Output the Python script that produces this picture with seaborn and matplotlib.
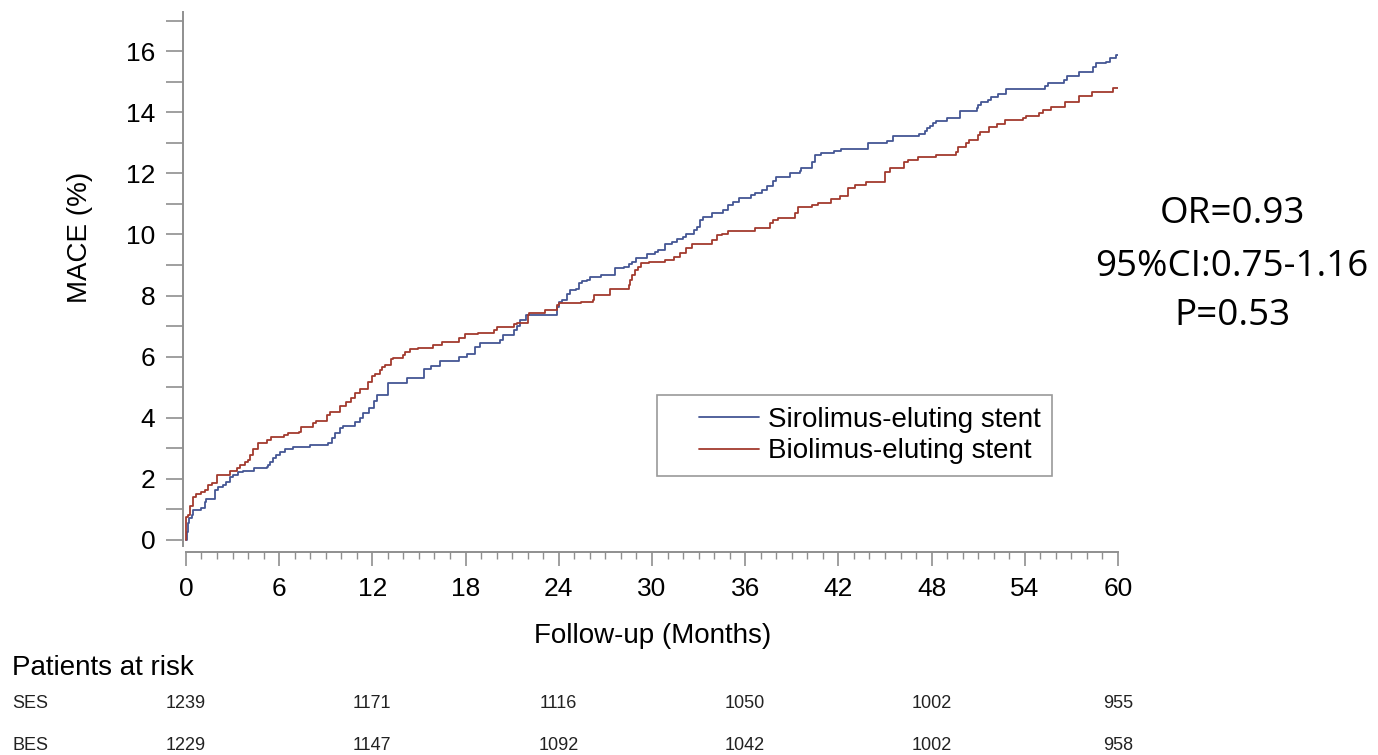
import numpy as np
import pandas as pd
import matplotlib
matplotlib.use("Agg")
import matplotlib.pyplot as plt
import seaborn as sns
from matplotlib import font_manager as fm
from matplotlib.ticker import MultipleLocator
from matplotlib.lines import Line2D
from matplotlib.legend_handler import HandlerLine2D
from matplotlib.transforms import blended_transform_factory

# ---------------- data ----------------
ses_months = [0, 0.05, 0.1, 0.2, 0.36, 0.47, 1.0, 1.22, 1.3, 1.86, 2.08, 2.4, 2.6, 2.83, 3.0,
              3.36, 3.7, 4.4, 5.2, 5.3, 5.4, 5.6, 5.8, 6.05, 6.4, 6.9, 8.0, 9.16, 9.4, 9.6,
              9.9, 10.1, 10.9, 11.2, 11.4, 11.8, 12.1, 12.3, 13.0, 14.2, 15.3, 15.8, 16.35,
              17.6, 18.1, 18.6, 18.9, 20.2, 20.4, 21.1, 21.3, 21.5, 21.9, 23.9, 24.0, 24.2,
              24.5, 24.7, 25.1, 25.3, 25.5, 25.8, 26.0, 26.7, 27.6, 28.2, 28.5, 28.7, 29.0,
              29.7, 30.2, 30.4, 30.85, 31.3, 31.6, 32.0, 32.2, 32.7, 32.9, 33.1, 33.3, 33.85,
              34.6, 34.9, 35.2, 35.6, 36.4, 36.6, 37.1, 37.4, 37.8, 38.0, 38.9, 39.5, 39.6,
              40.3, 40.5, 40.9, 41.7, 42.2, 43.9, 45.1, 45.5, 47.2, 47.6, 47.7, 47.9, 48.1,
              48.3, 49.0, 49.8, 50.9, 51.0, 51.2, 51.6, 51.8, 52.3, 52.8, 55.3, 55.5, 56.5,
              56.7, 57.5, 58.4, 58.6, 59.2, 59.5, 59.9, 60.0]
ses_mace = [0, 0.27, 0.55, 0.71, 0.82, 0.98, 1.04, 1.25, 1.33, 1.64, 1.72, 1.8, 1.91, 2.07, 2.13,
            2.24, 2.27, 2.35, 2.4, 2.45, 2.56, 2.67, 2.78, 2.89, 2.97, 3.05, 3.11, 3.19, 3.33, 3.49,
            3.65, 3.74, 3.87, 3.98, 4.15, 4.31, 4.55, 4.75, 5.13, 5.3, 5.6, 5.7, 5.86,
            6.0, 6.1, 6.3, 6.45, 6.56, 6.7, 6.87, 7.0, 7.2, 7.36, 7.63, 7.8, 7.87,
            8.04, 8.18, 8.23, 8.4, 8.47, 8.5, 8.61, 8.67, 8.89, 8.94, 9.03, 9.11, 9.22,
            9.36, 9.43, 9.49, 9.7, 9.76, 9.84, 9.9, 10.03, 10.14, 10.25, 10.47, 10.58, 10.69,
            10.8, 10.96, 11.07, 11.18, 11.29, 11.34, 11.45, 11.58, 11.76, 11.87, 12.0, 12.09, 12.18,
            12.38, 12.6, 12.65, 12.74, 12.78, 12.98, 13.07, 13.22, 13.28, 13.38, 13.47, 13.56, 13.66,
            13.72, 13.82, 14.05, 14.13, 14.23, 14.34, 14.4, 14.5, 14.61, 14.75, 14.86, 14.94, 15.05,
            15.2, 15.32, 15.49, 15.6, 15.65, 15.76, 15.87, 15.87]

bes_months = [0, 0.02, 0.15, 0.25, 0.43, 0.64, 1.0, 1.22, 1.43, 1.65, 1.97, 2.83, 3.26, 3.47,
              3.8, 4.0, 4.1, 4.3, 4.65, 5.2, 5.5, 6.3, 6.6, 7.3, 7.4, 8.2, 8.4, 9.05, 9.3, 9.9,
              10.3, 10.6, 10.9, 11.2, 11.7, 11.95, 12.2, 12.5, 12.6, 12.8, 13.2, 13.3, 14.0,
              14.1, 14.4, 14.95, 15.9, 16.5, 17.6, 17.95, 18.8, 19.8, 20.0, 21.1, 21.3, 22.0,
              22.1, 23.1, 23.9, 24.0, 25.4, 26.2, 26.3, 27.3, 27.95, 28.5, 28.6, 28.7, 28.9,
              29.1, 29.3, 29.8, 30.85, 31.4, 31.8, 32.2, 32.6, 33.85, 34.2, 34.5, 34.9, 36.6,
              37.6, 37.8, 38.1, 39.2, 39.4, 40.3, 40.7, 41.5, 42.1, 42.6, 43.1, 43.8, 45.0,
              45.3, 46.2, 46.45, 47.1, 48.3, 49.6, 49.7, 50.2, 50.4, 51.0, 51.1, 51.7, 52.2,
              52.7, 53.9, 54.1, 54.9, 55.2, 55.7, 56.6, 57.5, 58.3, 59.7, 60.0]
bes_mace = [0, 0.76, 0.82, 1.11, 1.42, 1.49, 1.58, 1.65, 1.8, 1.87, 2.13, 2.26, 2.35, 2.45,
            2.56, 2.62, 2.78, 2.99, 3.16, 3.27, 3.36, 3.43, 3.49, 3.54, 3.71, 3.82, 3.9, 4.09, 4.2, 4.4,
            4.53, 4.65, 4.8, 4.93, 5.18, 5.37, 5.43, 5.56, 5.67, 5.72, 5.91, 5.94, 6.05,
            6.16, 6.24, 6.29, 6.38, 6.49, 6.6, 6.73, 6.79, 6.87, 6.96, 7.07, 7.11, 7.36,
            7.44, 7.53, 7.69, 7.74, 7.8, 7.85, 8.02, 8.2, 8.23, 8.34, 8.5, 8.67, 8.83,
            8.94, 9.05, 9.11, 9.16, 9.27, 9.38, 9.54, 9.7, 9.82, 9.98, 10.03, 10.12, 10.22,
            10.36, 10.47, 10.55, 10.69, 10.89, 10.96, 11.04, 11.16, 11.26, 11.51, 11.61, 11.72, 12.05,
            12.16, 12.38, 12.43, 12.52, 12.6, 12.71, 12.85, 12.98, 13.09, 13.25, 13.36, 13.52, 13.6,
            13.76, 13.8, 13.87, 13.98, 14.07, 14.18, 14.34, 14.53, 14.67, 14.78, 14.8]

group_labels = ["Sirolimus-eluting stent", "Biolimus-eluting stent"]
group_colors = ["#445694", "#A23A2E"]

risk_months = [0, 12, 24, 36, 48, 60]
risk_rows = ["SES", "BES"]
ses_at_risk = [1239, 1171, 1116, 1050, 1002, 955]
bes_at_risk = [1229, 1147, 1092, 1042, 1002, 958]

stats_lines = ["OR=0.93", "95%CI:0.75-1.16", "P=0.53"]

# ---------------- style ----------------
sns.set_style("white")
names = {f.name for f in fm.fontManager.ttflist}
main_font = "Liberation Sans" if "Liberation Sans" in names else "DejaVu Sans"
narrow_font = "Liberation Sans Narrow" if "Liberation Sans Narrow" in names else main_font
narrow_size = 15 if narrow_font == "Liberation Sans Narrow" else 13
stats_font = "Open Sans" if "Open Sans" in names else "DejaVu Sans"
plt.rcParams["font.family"] = [main_font, "DejaVu Sans"]
plt.rcParams["text.color"] = "black"
plt.rcParams["axes.labelcolor"] = "black"
plt.rcParams["xtick.labelcolor"] = "black"
plt.rcParams["ytick.labelcolor"] = "black"

W, H = 1378, 755
fig = plt.figure(figsize=(W / 100, H / 100), dpi=100)
fig.patch.set_facecolor("white")


def fx(px):
    return px / W


def fy(py):
    return 1 - py / H


ax = fig.add_axes([fx(183), fy(552), (1118 - 183) / W, (552 - 12) / H])

df = pd.concat([
    pd.DataFrame({"month": ses_months, "mace": ses_mace, "group": group_labels[0]}),
    pd.DataFrame({"month": bes_months, "mace": bes_mace, "group": group_labels[1]}),
], ignore_index=True)

sns.lineplot(data=df, x="month", y="mace", hue="group", hue_order=group_labels,
             palette=group_colors, estimator=None, drawstyle="steps-post",
             linewidth=1.3, legend=False, ax=ax)

ax.set_xlim(-0.19, 60)
ax.set_ylim(-0.393, 17.28)

axis_gray = "#8f8f8f"
for s in ["top", "right"]:
    ax.spines[s].set_visible(False)
ax.spines["bottom"].set_bounds(0, 60)
ax.spines["left"].set_bounds(-0.2, 17.28)
for s in ["bottom", "left"]:
    ax.spines[s].set_color(axis_gray)
    ax.spines[s].set_linewidth(1.4)

ax.xaxis.set_major_locator(MultipleLocator(6))
ax.xaxis.set_minor_locator(MultipleLocator(1))
ax.yaxis.set_major_locator(MultipleLocator(2))
ax.yaxis.set_minor_locator(MultipleLocator(1))
ax.tick_params(axis="x", which="major", length=10, width=1.2, color=axis_gray,
               labelsize=19, pad=8, direction="out", bottom=True, labelcolor="black")
ax.tick_params(axis="x", which="minor", length=5, width=1.0, color=axis_gray,
               direction="out", bottom=True)
ax.tick_params(axis="y", which="both", length=12, width=1.2, color=axis_gray,
               labelsize=19, pad=8, direction="out", left=True, labelcolor="black")
ax.set_xticks([0, 6, 12, 18, 24, 30, 36, 42, 48, 54, 60])
ax.set_yticks([0, 2, 4, 6, 8, 10, 12, 14, 16])

ax.set_xlabel("Follow-up (Months)", fontsize=20, color="black")
ax.set_ylabel("MACE (%)", fontsize=20, color="black")
ax.xaxis.label.set_va("center")
ax.yaxis.label.set_va("center")
ax.xaxis.set_label_coords((653 - 183) / 935, (552 - 636) / 540)
ax.yaxis.set_label_coords((80 - 183) / 935, (552 - 237) / 540)


# ---------------- legend ----------------
class OffsetLineHandler(HandlerLine2D):
    def create_artists(self, legend, orig_handle, xdescent, ydescent, width, height,
                       fontsize, trans):
        arts = super().create_artists(legend, orig_handle, xdescent, ydescent, width,
                                      height, fontsize, trans)
        for a in arts:
            xd = np.asarray(a.get_xdata(), dtype=float)
            if xd.size >= 2 and xd.max() > xd.min():
                x0, x1 = xd.min(), xd.max()
                a.set_xdata(x0 + (x1 - x0) * (0.333 + 0.667 * (xd - x0) / (x1 - x0)))
        return arts


handles = [Line2D([], [], color=c, linewidth=1.3) for c in group_colors]
leg = ax.legend(handles, group_labels, loc="upper left",
                bbox_to_anchor=(fx(657), fy(395)), bbox_transform=fig.transFigure,
                borderaxespad=0, fontsize=20, handlelength=3.24, handletextpad=0.32,
                labelspacing=0.2, borderpad=0.42, frameon=True, fancybox=False,
                framealpha=1, edgecolor="#9a9a9a",
                handler_map={Line2D: OffsetLineHandler()})
leg.get_frame().set_linewidth(1.2)
for t in leg.get_texts():
    t.set_color("black")

# ---------------- statistics text ----------------
for txt, ypx in zip(stats_lines, [214, 267, 316]):
    fig.text(fx(1232), fy(ypx), txt, ha="center", va="center", fontsize=26.5,
             family=[stats_font, "DejaVu Sans"], color="black")

# ---------------- risk table ----------------
fig.text(fx(12), fy(668), "Patients at risk", ha="left", va="center", fontsize=20,
         color="black")
tr = blended_transform_factory(ax.transData, fig.transFigure)
for row, vals, ypx in zip(risk_rows, [ses_at_risk, bes_at_risk], [703, 745]):
    fig.text(fx(12), fy(ypx), row, ha="left", va="center", fontsize=narrow_size,
             family=[narrow_font, "DejaVu Sans"], color="#222222")
    for m, v in zip(risk_months, vals):
        ax.text(m, fy(ypx), str(v), transform=tr, ha="center", va="center",
                fontsize=narrow_size, family=[narrow_font, "DejaVu Sans"],
                color="#222222", clip_on=False)

fig.savefig("out.png", dpi=100, facecolor="white")
